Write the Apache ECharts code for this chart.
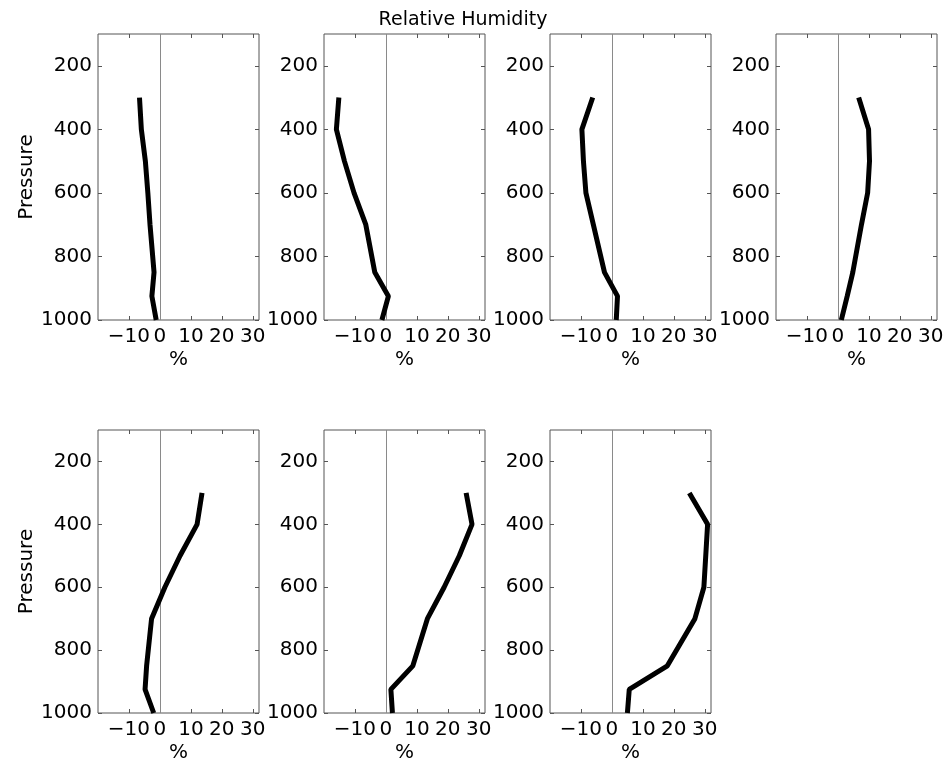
<!DOCTYPE html>
<html>
<head>
<meta charset="utf-8">
<script src="https://cdn.jsdelivr.net/npm/echarts@6/dist/echarts.min.js"></script>
<style>html,body{margin:0;padding:0;background:#fff}#c{width:950px;height:771px}</style>
</head>
<body>
<div id="c"></div>
<script>
const pressure = [300, 400, 500, 600, 700, 850, 925, 1000];
const rh1 = [-6.6, -6.0, -4.7, -3.9, -3.2, -1.9, -2.6, -1.2];
const rh2 = [-15.2, -16.0, -13.4, -10.3, -6.5, -3.6, 0.8, -1.3];
const rh3 = [-6.2, -9.7, -9.2, -8.4, -6.0, -2.4, 1.8, 1.4];
const rh4 = [6.7, 9.9, 10.2, 9.6, 7.6, 4.8, 3.0, 1.1];
const rh5 = [13.6, 12.0, 6.5, 1.6, -2.7, -4.3, -4.8, -2.0];
const rh6 = [25.9, 27.8, 23.7, 18.8, 13.4, 8.7, 1.6, 2.1];
const rh7 = [25.0, 30.9, 30.3, 29.7, 26.8, 17.9, 5.6, 5.0];
const panels = [rh1, rh2, rh3, rh4, rh5, rh6, rh7];
const xTicks = [-10, 0, 10, 20, 30];
const yTicks = [200, 400, 600, 800, 1000];
const titleText = 'Relative Humidity';
const xName = '%';
const yName = 'Pressure';

const FONT = 'DejaVu Sans';
const FS = 20;
const lefts = [98, 324, 550, 776];
const tops = [34, 430];
const heights = [286, 283];
const W = 161;
const frame = '#555';

const grids = [], xAxes = [], yAxes = [], series = [];
const fmtX = v => String(v).replace('-', '\u2212');
const fmtY = v => String(v);

panels.forEach((vals, i) => {
  const row = i < 4 ? 0 : 1;
  const col = i < 4 ? i : i - 4;
  grids.push({
    left: lefts[col], top: tops[row], width: W, height: heights[row],
    show: true, borderColor: frame, borderWidth: 1, backgroundColor: 'transparent',
    containLabel: false
  });
  const base = {
    gridIndex: i, type: 'value', min: -20, max: 32,
    splitLine: { show: false },
    axisLine: { show: false, onZero: false },
    axisTick: { show: true, inside: true, length: 4, customValues: xTicks, lineStyle: { color: frame } }
  };
  xAxes.push(Object.assign({}, base, {
    position: 'bottom',
    name: xName, nameLocation: 'middle', nameGap: 30,
    nameTextStyle: { fontFamily: FONT, fontSize: FS, color: '#000' },
    axisLabel: { show: true, customValues: xTicks, formatter: fmtX, margin: 7,
      fontFamily: FONT, fontSize: FS, color: '#000' }
  }));
  xAxes.push(Object.assign({}, base, {
    position: 'top', axisLabel: { show: false }
  }));
  const ybase = {
    gridIndex: i, type: 'value', min: 100, max: 1000, inverse: true,
    splitLine: { show: false },
    axisLine: { show: false, onZero: false },
    axisTick: { show: true, inside: true, length: 4, customValues: yTicks, lineStyle: { color: frame } }
  };
  yAxes.push(Object.assign({}, ybase, {
    position: 'left',
    name: col === 0 ? yName : '', nameLocation: 'middle', nameGap: 61,
    nameTextStyle: { fontFamily: FONT, fontSize: FS, color: '#000' },
    axisLabel: { show: true, customValues: yTicks, formatter: fmtY, margin: 6,
      fontFamily: FONT, fontSize: FS, color: '#000' }
  }));
  yAxes.push(Object.assign({}, ybase, {
    position: 'right', axisLabel: { show: false }
  }));
  series.push({
    type: 'line',
    xAxisIndex: 2 * i, yAxisIndex: 2 * i,
    data: pressure.map((p, k) => [vals[k], p]),
    symbol: 'none',
    lineStyle: { color: '#000', width: 5 },
    z: 3,
    markLine: {
      silent: true, symbol: 'none', label: { show: false },
      lineStyle: { color: '#8a8a8a', width: 1, type: 'solid' },
      data: [{ xAxis: 0 }],
      z: 1
    }
  });
});

const chart = echarts.init(document.getElementById('c'));
chart.setOption({
  animation: false,
  backgroundColor: '#fff',
  title: {
    text: titleText, left: 463, top: 11, textAlign: 'center', padding: 0,
    textStyle: { fontFamily: FONT, fontSize: 19, fontWeight: 'normal', color: '#000' }
  },
  grid: grids,
  xAxis: xAxes,
  yAxis: yAxes,
  series: series
});
</script>
</body>
</html>
